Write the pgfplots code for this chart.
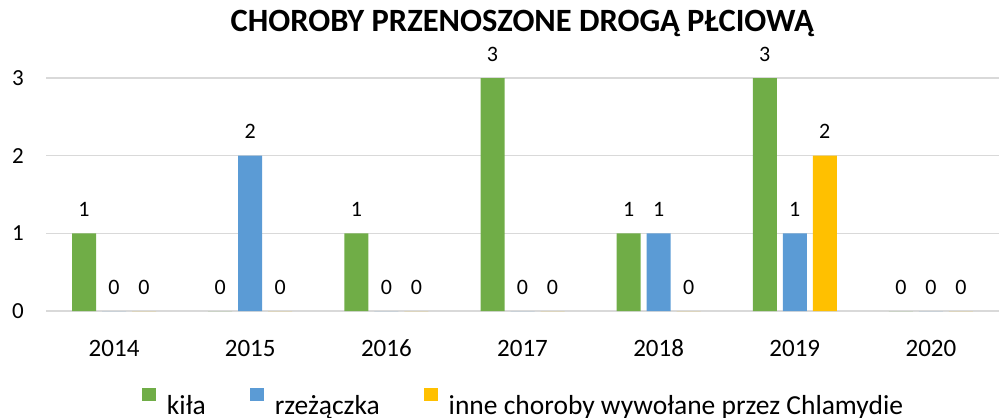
\documentclass[border=0pt]{standalone}
\usepackage{fontspec}
\setmainfont{Carlito}
\usepackage{pgfplots}
\pgfplotsset{compat=1.18}
\definecolor{cGreen}{HTML}{70AD47}
\definecolor{cBlue}{HTML}{5B9BD5}
\definecolor{cYellow}{HTML}{FFC000}
\definecolor{cGrid}{HTML}{D9D9D9}
\begin{document}
\begin{tikzpicture}[x=1bp,y=1bp]
\useasboundingbox (0,0) rectangle (999,417);
\begin{axis}[
  at={(46bp,106bp)}, anchor=south west,
  scale only axis, width=953bp, height=233bp,
  ymin=0, ymax=3, xmin=-0.5, xmax=6.5,
  ybar=6bp, bar width=24bp,
  axis line style={draw=none},
  major tick length=0pt,
  ytick={0,1,2,3},
  ymajorgrids, major grid style={cGrid, line width=1.4bp},
  xtick={0,1,2,3,4,5,6},
  xticklabels={2014,2015,2016,2017,2018,2019,2020},
  /pgf/number format/assume math mode=true,
  xticklabel style={font=\fontsize{25bp}{28bp}\selectfont, anchor=base, inner sep=0pt, yshift=-45bp},
  yticklabel style={font=\fontsize{23bp}{28bp}\selectfont, anchor=east, inner sep=0pt, xshift=-22bp},
  title={\textbf{CHOROBY PRZENOSZONE DROGĄ PŁCIOWĄ}},
  title style={font=\fontsize{32.5bp}{36bp}\selectfont, at={(0.5,1)}, anchor=base, inner sep=0pt, yshift=41bp},
  nodes near coords,
  every node near coord/.append style={font=\fontsize{22bp}{26bp}\selectfont, black, anchor=base, inner sep=0pt, yshift=17bp},
  legend columns=-1,
  legend style={draw=none, fill=none, inner sep=0pt, at={(0.5,0)}, anchor=north, yshift=-76.5bp,
    font=\fontsize{27.5bp}{32bp}\selectfont,
    nodes={inner sep=0pt},
    /tikz/every odd column/.append style={column sep=11bp},
    /tikz/every even column/.append style={column sep=44bp}},
]
\addplot[fill=cGreen, draw=none, legend image code/.code={\path (0bp,0bp); \fill[cGreen] (0bp,5bp) rectangle (14bp,18bp);}]
  coordinates {(0,1) (1,0) (2,1) (3,3) (4,1) (5,3) (6,0)};
\addplot[fill=cBlue, draw=none, legend image code/.code={\path (0bp,0bp); \fill[cBlue] (0bp,5bp) rectangle (14bp,18bp);}]
  coordinates {(0,0) (1,2) (2,0) (3,0) (4,1) (5,1) (6,0)};
\addplot[fill=cYellow, draw=none, legend image code/.code={\path (0bp,0bp); \fill[cYellow] (0bp,5bp) rectangle (14bp,18bp);}]
  coordinates {(0,0) (1,0) (2,0) (3,0) (4,0) (5,2) (6,0)};
\legend{kiła, rzeżączka, inne choroby wywołane przez Chlamydie}
\end{axis}
\end{tikzpicture}
\end{document}
